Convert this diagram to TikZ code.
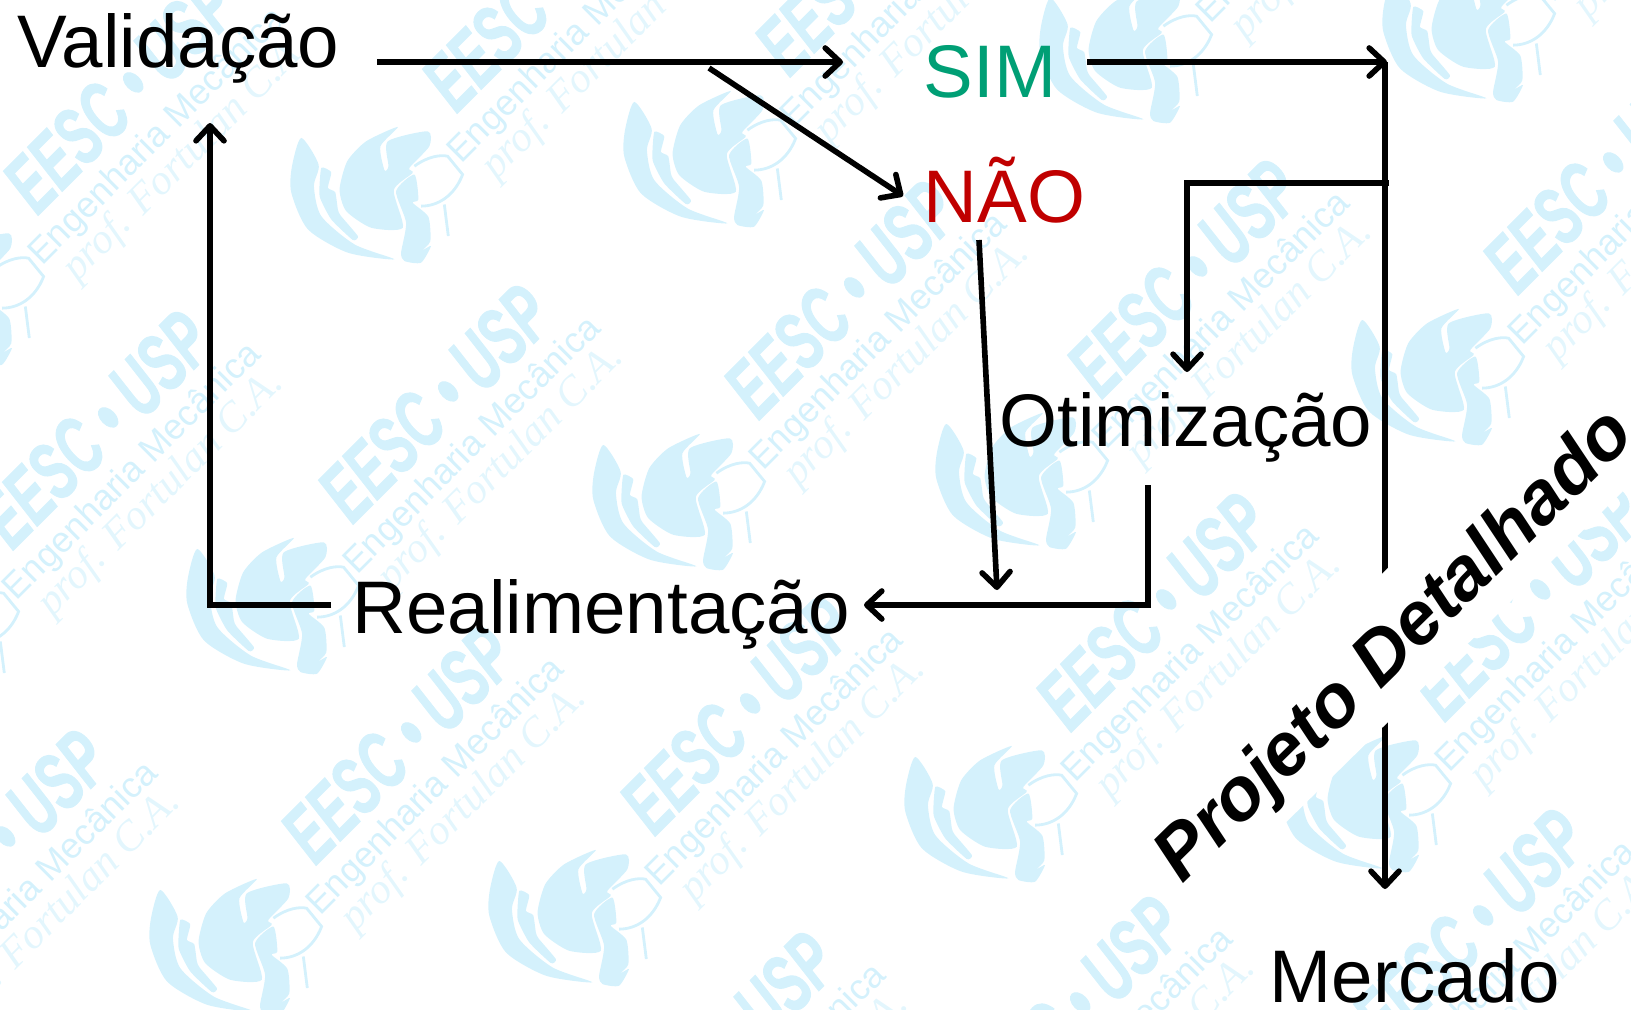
\documentclass[tikz,border=0pt]{standalone}
\usepackage{fontspec}
\setmainfont{Liberation Sans}
\newfontfamily\marcaserif{Liberation Serif}
\newfontfamily\marcafat[BoldItalicFeatures={FakeBold=1.6}]{Liberation Sans}
\usetikzlibrary{arrows.meta}
\definecolor{marca}{HTML}{D4F1FC}
\definecolor{marcaclara}{HTML}{E3F6FD}
\definecolor{simcor}{HTML}{009F75}
\definecolor{naocor}{HTML}{C00000}
\tikzset{
  rotulo/.style={anchor=base west, inner sep=0pt, font=\fontsize{21.2}{25}\selectfont},
  fluxo/.style={line width=1.6pt, line join=miter},
  seta/.style={fluxo, -{Straight Barb[length=1.5mm, width=2.8mm, round]}},
  marcalogo/.pic={
    \begin{scope}[shift={(-.76,.79)}, x=.0033333cm, y=-.0033333cm]
    \fill[marca] plot[smooth cycle, tension=.45] coordinates {(40,75) (12,160) (10,240) (60,350) (180,420) (320,440) (200,395) (100,310) (78,220) (92,155)};
    \fill[marca] plot[smooth cycle, tension=.3] coordinates {(100,165) (130,178) (120,225) (142,238) (150,290) (158,308) (210,370) (195,382) (130,320) (95,250)};
    \fill[marca] plot[smooth cycle, tension=.4] coordinates {(155,230) (178,145) (235,85) (330,42) (278,100) (290,172) (302,160) (300,85) (420,55) (425,100) (365,165) (375,180) (318,232) (345,345) (250,345) (175,295)};
    \fill[marca] plot[smooth cycle, tension=.4] coordinates {(380,185) (392,260) (375,270) (422,312) (428,385) (405,412) (430,400) (400,450) (350,445) (340,420) (355,330) (325,235)};
    \draw[marca, line width=.8pt] (380,160) .. controls (420,130) and (460,125) .. (480,130) -- (525,185) .. controls (500,250) and (450,280) .. (400,280);
    \draw[marca, line width=.8pt] (470,275) -- (482,370);
    \end{scope}
    \node[rotate=45, xscale=.63, text=marca, font=\fontsize{23}{27}\selectfont\marcafat\bfseries\itshape] at (1.75,2) {EESC • USP};
    \node[rotate=45, text=marca, font=\fontsize{10.2}{13}\selectfont] at (2.13,1.57) {Engenharia Mecânica};
    \node[rotate=45, text=marcaclara, font=\fontsize{12}{14}\selectfont\marcaserif\itshape] at (2.41,1.35) {prof. Fortulan C.A.};
  }
}
\begin{document}
\begin{tikzpicture}[>=latex]
\useasboundingbox (0,0) rectangle (16.31,10.09);

% marca d'agua
\begin{scope}
\clip (0,0) rectangle (16.31,10.09);
\foreach \mx/\my in {3.64/8.17,6.97/8.53,11.13/9.57,14.56/9.78,
    2.60/4.06,6.66/5.10,10.09/5.31,14.25/6.35,
    2.23/.65,5.62/.94,9.78/1.98,13.52/2.08,
    -.55/7.15,-.8/3.8,-1.83/-.39,5.45/-2.41,8.92/-2.05,12.95/-1.18}
  \pic at (\mx,\my) {marcalogo};
\end{scope}

% textos
\node[rotulo] (validacao) at (.17,9.42) {Validação};
\node[rotulo, text=simcor] (sim) at (9.23,9.12) {SIM};
\node[rotulo, text=naocor] (nao) at (9.23,7.87) {NÃO};
\node[rotulo] (otimizacao) at (9.99,5.63) {Otimização};
\node[rotulo] (realimentacao) at (3.52,3.76) {Realimentação};
\node[rotulo] (mercado) at (12.69,.07) {Mercado};

% pontos
\coordinate (valout) at (3.77,9.47);
\coordinate (simin) at (8.43,9.47);
\coordinate (ramo) at (7.09,9.41);
\coordinate (naoin) at (9.03,8.13);
\coordinate (simout) at (10.87,9.47);
\coordinate (canto) at (13.87,9.47);
\coordinate (topo) at (13.85,9.47);
\coordinate (mercin) at (13.85,1.2);
\coordinate (otsai) at (13.89,8.26);
\coordinate (otcanto) at (11.87,8.26);
\coordinate (otin) at (11.87,6.37);
\coordinate (naoout) at (9.79,7.69);
\coordinate (naofim) at (9.97,4.19);
\coordinate (realsai) at (11.48,5.24);
\coordinate (realcanto) at (11.48,4.04);
\coordinate (realin) at (8.64,4.04);
\coordinate (voltasai) at (3.31,4.04);
\coordinate (voltacanto) at (2.10,4.04);
\coordinate (valin) at (2.10,8.86);

% setas
\draw[seta] (valout)--(simin);
\draw[seta] (ramo)--(naoin);
\draw[seta] (simout)--(canto);
\draw[seta] (topo)--(mercin);
\draw[seta] (otsai)--(otcanto)--(otin);
\draw[seta] (naoout)--(naofim);
\draw[seta] (realsai)--(realcanto)--(realin);
\draw[seta] (voltasai)--(voltacanto)--(valin);

\node[rotate=44.5, fill=white, minimum height=1.1cm, inner xsep=1mm, inner ysep=0pt, text height=.62cm, text depth=.08cm, font=\fontsize{21.2}{25}\selectfont\bfseries\itshape] (projeto) at (13.91,3.67) {Projeto Detalhado};
\end{tikzpicture}
\end{document}
